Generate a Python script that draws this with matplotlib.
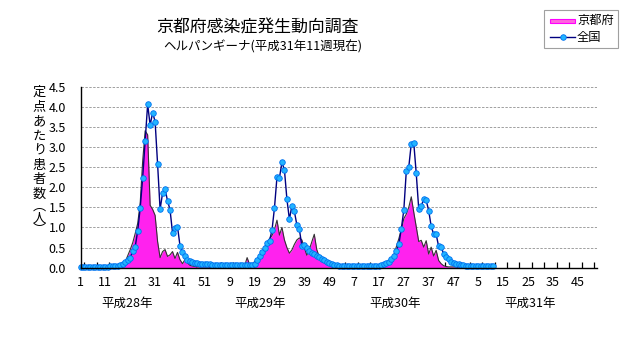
import numpy as np
import matplotlib
matplotlib.use("Agg")
import matplotlib.pyplot as plt
from matplotlib import font_manager
from matplotlib.patches import Rectangle
from matplotlib.lines import Line2D

# ---------------- data ----------------
title = "京都府感染症発生動向調査"
subtitle = "ヘルパンギーナ(平成31年11週現在)"
ylabel_chars = ["定", "点", "あ", "た", "り", "患", "者", "数", "︵", "人", "︶"]
series_names = ["京都府", "全国"]
year_labels = ["平成28年", "平成29年", "平成30年", "平成31年"]
week_tick_labels = ["1", "11", "21", "31", "41", "51", "9", "19", "29", "39", "49",
                    "7", "17", "27", "37", "47", "5", "15", "25", "35", "45"]
y_ticks = [0.0, 0.5, 1.0, 1.5, 2.0, 2.5, 3.0, 3.5, 4.0, 4.5]

zenkoku_2016 = [0.02, 0.02, 0.02, 0.02, 0.02, 0.02, 0.02, 0.02, 0.02, 0.02, 0.02, 0.02, 0.03,
                0.03, 0.04, 0.05, 0.07, 0.10, 0.13, 0.19, 0.25, 0.41, 0.52, 0.92, 1.48, 2.24,
                3.14, 4.06, 3.54, 3.85, 3.63, 2.57, 1.45, 1.85, 1.95, 1.66, 1.44, 0.87, 0.98,
                1.02, 0.55, 0.40, 0.30, 0.20, 0.16, 0.13, 0.12, 0.11, 0.10, 0.10, 0.09, 0.08]
zenkoku_2017 = [0.08, 0.07, 0.07, 0.06, 0.06, 0.06, 0.06, 0.06, 0.06, 0.06, 0.06, 0.06, 0.07,
                0.07, 0.07, 0.07, 0.07, 0.07, 0.10, 0.19, 0.29, 0.38, 0.50, 0.62, 0.67, 0.93,
                1.49, 2.25, 2.23, 2.62, 2.43, 1.70, 1.20, 1.54, 1.40, 1.06, 0.95, 0.55, 0.56,
                0.50, 0.42, 0.36, 0.33, 0.30, 0.26, 0.22, 0.18, 0.15, 0.12, 0.09, 0.07, 0.06]
zenkoku_2018 = [0.05, 0.04, 0.04, 0.04, 0.03, 0.03, 0.03, 0.03, 0.03, 0.03, 0.03, 0.03, 0.03,
                0.03, 0.03, 0.03, 0.04, 0.06, 0.08, 0.11, 0.15, 0.21, 0.29, 0.42, 0.58, 0.97,
                1.43, 2.40, 2.50, 3.08, 3.10, 2.34, 1.46, 1.52, 1.71, 1.67, 1.42, 1.03, 0.83,
                0.83, 0.53, 0.51, 0.35, 0.27, 0.21, 0.15, 0.12, 0.10, 0.08, 0.07, 0.06, 0.05]
zenkoku_2019 = [0.04, 0.04, 0.03, 0.03, 0.03, 0.03, 0.03, 0.03, 0.04, 0.04, 0.05]

kyoto_2016 = [0.00, 0.00, 0.00, 0.00, 0.00, 0.00, 0.00, 0.00, 0.00, 0.00, 0.00, 0.00, 0.01,
              0.01, 0.02, 0.02, 0.04, 0.07, 0.15, 0.30, 0.45, 0.62, 0.85, 1.10, 1.60, 2.65,
              3.40, 3.30, 1.55, 1.45, 1.30, 0.65, 0.25, 0.40, 0.45, 0.28, 0.32, 0.40, 0.23,
              0.38, 0.20, 0.10, 0.20, 0.12, 0.06, 0.04, 0.03, 0.02, 0.02, 0.02, 0.02, 0.02]
kyoto_2017 = [0.02, 0.02, 0.02, 0.01, 0.01, 0.01, 0.01, 0.01, 0.01, 0.01, 0.01, 0.01, 0.02,
              0.02, 0.05, 0.25, 0.08, 0.08, 0.15, 0.22, 0.30, 0.40, 0.50, 0.62, 0.72, 0.80,
              0.95, 1.18, 0.81, 1.00, 0.69, 0.50, 0.36, 0.44, 0.58, 0.69, 0.74, 0.69, 0.50,
              0.31, 0.45, 0.64, 0.83, 0.45, 0.27, 0.18, 0.12, 0.11, 0.08, 0.05, 0.04, 0.03]
kyoto_2018 = [0.02, 0.02, 0.02, 0.01, 0.01, 0.01, 0.01, 0.01, 0.01, 0.01, 0.01, 0.01, 0.01,
              0.01, 0.01, 0.02, 0.02, 0.03, 0.04, 0.05, 0.08, 0.13, 0.32, 0.52, 0.72, 0.95,
              1.22, 1.33, 1.50, 1.76, 1.38, 1.02, 0.65, 0.68, 0.51, 0.67, 0.34, 0.51, 0.29,
              0.43, 0.18, 0.10, 0.05, 0.03, 0.02, 0.02, 0.02, 0.02, 0.02, 0.02, 0.02, 0.02]
kyoto_2019 = [0.02, 0.02, 0.02, 0.02, 0.02, 0.02, 0.02, 0.02, 0.02, 0.02, 0.02]

zenkoku = np.array(zenkoku_2016 + zenkoku_2017 + zenkoku_2018 + zenkoku_2019)
kyoto = np.array(kyoto_2016 + kyoto_2017 + kyoto_2018 + kyoto_2019)
x = np.arange(len(zenkoku))

# ---------------- fonts ----------------
JP = ["Noto Sans CJK JP", "DejaVu Sans"]
try:
    font_manager.findfont("Liberation Sans Narrow", fallback_to_default=False)
    NUM = ["Liberation Sans Narrow", "DejaVu Sans"]
except Exception:
    NUM = ["Noto Sans CJK JP", "DejaVu Sans"]
plt.rcParams["font.family"] = JP

W, H = 631, 347
fig = plt.figure(figsize=(W / 100, H / 100), dpi=100)
fig.patch.set_facecolor("white")

x_left_px, px_per_wk = 80.5, 2.487
y0_px, y45_px = 267.7, 86.5
n_span = 207.5
ax = fig.add_axes([x_left_px / W, (H - y0_px) / H, n_span * px_per_wk / W, (y0_px - y45_px) / H])
ax.set_xlim(0, n_span)
ax.set_ylim(0, 4.5)

# grid
for yv in y_ticks[1:]:
    ax.axhline(yv, color="#a0a0a0", lw=0.7, ls=(0, (2.5, 1.5)), zorder=0)

# Kyoto filled area
ax.fill_between(x[:len(kyoto)], 0, kyoto, color="#ff22ee", lw=0, zorder=2)
ax.plot(x[:len(kyoto)], kyoto, color="#333333", lw=0.8, zorder=3)

# national line with markers
ax.plot(x, zenkoku, color="#000080", lw=1.0, marker="o", ms=4.0,
        mfc="#22b4ff", mec="#0070f0", mew=0.6, zorder=4, clip_on=False)

# spines
for s in ["top", "right"]:
    ax.spines[s].set_visible(False)
for s in ["left", "bottom"]:
    ax.spines[s].set_color("black")
    ax.spines[s].set_linewidth(1.0)
    ax.spines[s].set_zorder(5)

# y ticks
ax.set_yticks(y_ticks)
ax.set_yticklabels([f"{v:.1f}" for v in y_ticks], fontfamily=NUM, fontsize=9)
ax.tick_params(axis="y", length=0, pad=10.5)

# x ticks
ax.set_xticks(np.arange(0, 201, 10))
ax.set_xticklabels(week_tick_labels, fontfamily=NUM, fontsize=9)
ax.set_xticks(np.arange(1.5, n_span, 5), minor=True)
ax.tick_params(axis="x", which="major", length=0, pad=6)
ax.tick_params(axis="x", which="minor", length=4, direction="in", color="black", width=0.9)

# year labels
year_x = [18.7, 72.2, 126.4, 180.7]
for xv, lab in zip(year_x, year_labels):
    ax.text(xv, -(303.5 - y0_px) / ((y0_px - y45_px) / 4.5), lab, ha="center", va="center",
            fontsize=9, clip_on=False)

# titles
fig.text(257.5 / W, 1 - 27 / H, title, ha="center", va="center", fontsize=12.2)
fig.text(262.5 / W, 1 - 47 / H, subtitle, ha="center", va="center", fontsize=9)

# vertical y label
ylab_y = [92, 107, 121.5, 136, 150.5, 165.5, 180, 194.5, 206, 218.5, 231]
for ch, yp in zip(ylabel_chars, ylab_y):
    fig.text(39.5 / W, 1 - yp / H, ch, ha="center", va="center", fontsize=9.5)

# legend (manual box)
fig.add_artist(Rectangle((543.5 / W, 1 - 47.5 / H), 74 / W, 37.5 / H, transform=fig.transFigure,
                         facecolor="white", edgecolor="#a0a0a0", lw=0.8))
fig.add_artist(Rectangle((550 / W, 1 - 23 / H), 25 / W, 4.5 / H, transform=fig.transFigure,
                         facecolor="#ff66dd", edgecolor="#ff00ff", lw=0.8))
fig.add_artist(Line2D([550 / W, 575 / W], [1 - 37.3 / H, 1 - 37.3 / H], transform=fig.transFigure,
                      color="#000080", lw=1.0))
fig.add_artist(Line2D([562.5 / W], [1 - 37.3 / H], transform=fig.transFigure, ls="none",
                      marker="o", ms=4.0, mfc="#22b4ff", mec="#0070f0", mew=0.6))
fig.text(577 / W, 1 - 20.5 / H, series_names[0], ha="left", va="center", fontsize=8.8)
fig.text(577 / W, 1 - 37.3 / H, series_names[1], ha="left", va="center", fontsize=8.8)

fig.savefig("out.png", dpi=100, facecolor="white")
